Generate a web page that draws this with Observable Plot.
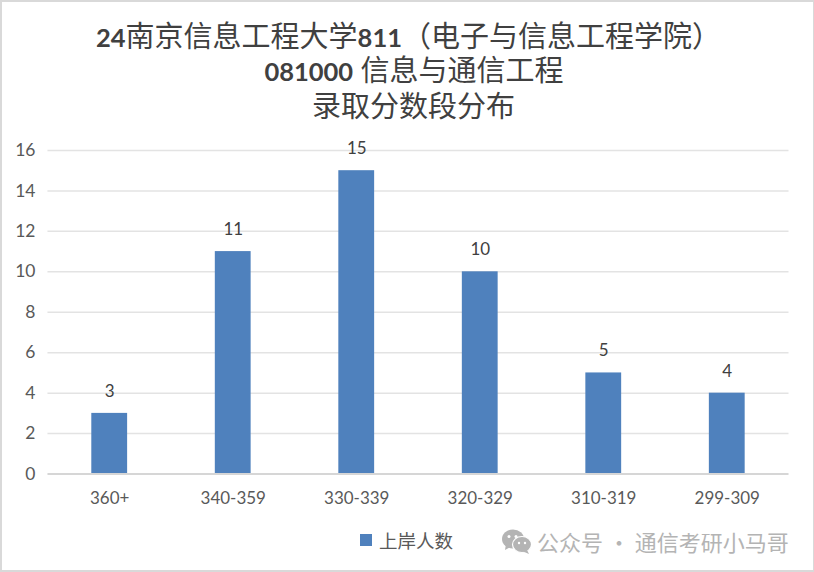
<!DOCTYPE html>
<html><head><meta charset="utf-8">
<script src="https://cdn.jsdelivr.net/npm/d3@7"></script>
<script src="https://cdn.jsdelivr.net/npm/@observablehq/plot@0.6"></script>
<style>
html,body{margin:0;padding:0;background:#fff}
#frame{position:relative;width:814px;height:572px;box-sizing:border-box;border:2px solid #d9d9d9;border-right-width:1px;overflow:hidden;background:#fff}
#title{position:absolute;left:-2px;top:16px;width:814px;text-align:center;font:29px/35px Lato,"Noto Sans CJK SC",sans-serif;color:#404040}
#title div{height:35px;line-height:35px;white-space:nowrap;box-sizing:border-box}
#title b{font:700 25.5px/20px Lato,sans-serif}
#chart{position:absolute;left:-2px;top:124px}
#legend{position:absolute;left:358px;top:527px;font:18.5px/22px "Noto Sans CJK SC",sans-serif;color:#595959;display:flex;align-items:center;gap:7px}
#legend i{display:inline-block;width:12px;height:12px;background:#4f81bd}
#mark{position:absolute;left:500px;top:526px;font:22px/26px "Noto Sans CJK SC",sans-serif;color:#b4b4b4;display:flex;align-items:center;gap:5px;white-space:pre}
</style></head><body>
<div id="frame">
<div id="title"><div style="padding-left:3px"><b>24</b>南京信息工程大学<b>811</b>（电子与信息工程学院）</div><div style="padding-left:14px;position:relative;top:-1px"><b>081000</b> 信息与通信工程</div><div style="padding-left:13px">录取分数段分布</div></div>
<div id="chart"></div>
<div id="legend"><i></i><span id="seriesName"></span></div>
<div id="mark"><svg width="30" height="25" viewBox="0 0 30 25"><ellipse cx="11" cy="10" rx="11" ry="9.5" fill="#b4b4b4"/><path d="M4 15 L3 21 L10 17Z" fill="#b4b4b4"/><ellipse cx="20" cy="15.5" rx="9.5" ry="8" fill="#b4b4b4" stroke="#fff" stroke-width="1.2"/><path d="M25 21 L27 25 L20 22Z" fill="#b4b4b4"/><circle cx="7" cy="7.5" r="1.5" fill="#fff"/><circle cx="14" cy="7.5" r="1.5" fill="#fff"/><circle cx="17" cy="14" r="1.2" fill="#fff"/><circle cx="23" cy="14" r="1.2" fill="#fff"/></svg><span>公众号 · 通信考研小马哥</span></div>
</div>
<script>
const categories = ["360+","340-359","330-339","320-329","310-319","299-309"];
const counts = [3,11,15,10,5,4];
const yTicks = [0,2,4,6,8,10,12,14,16];
const seriesName = "上岸人数";
const rows = categories.map((c,i)=>({c,n:counts[i]}));
document.getElementById("seriesName").textContent = seriesName;
const fig = Plot.plot({
  width:814,height:383,
  marginTop:24,marginBottom:35,marginLeft:47.5,marginRight:24.5,
  style:{fontFamily:"Lato,'Noto Sans CJK SC',sans-serif",background:"transparent"},
  x:{domain:categories,label:null,paddingInner:0.71,paddingOuter:0.355,align:0.5,round:false},
  y:{domain:[0,16],label:null},
  marks:[
    Plot.ruleY(yTicks.filter(d=>d>0),{stroke:"#e3e3e3",strokeWidth:1.5}),
    Plot.barY(rows,{x:"c",y:"n",fill:"#4f81bd"}),
    Plot.ruleY([0],{stroke:"#d6d6d6",strokeWidth:2}),
    Plot.text(rows,{x:"c",y:"n",text:d=>String(d.n),dy:-22,fontSize:17,fill:"#404040"}),
    Plot.axisX({label:null,tickSize:0,tickPadding:18,fontSize:17,color:"#595959"}),
    Plot.axisY({ticks:yTicks,label:null,tickSize:0,tickPadding:12.5,fontSize:17.5,color:"#595959"})
  ]
});
document.getElementById("chart").append(fig);
</script>
</body></html>
